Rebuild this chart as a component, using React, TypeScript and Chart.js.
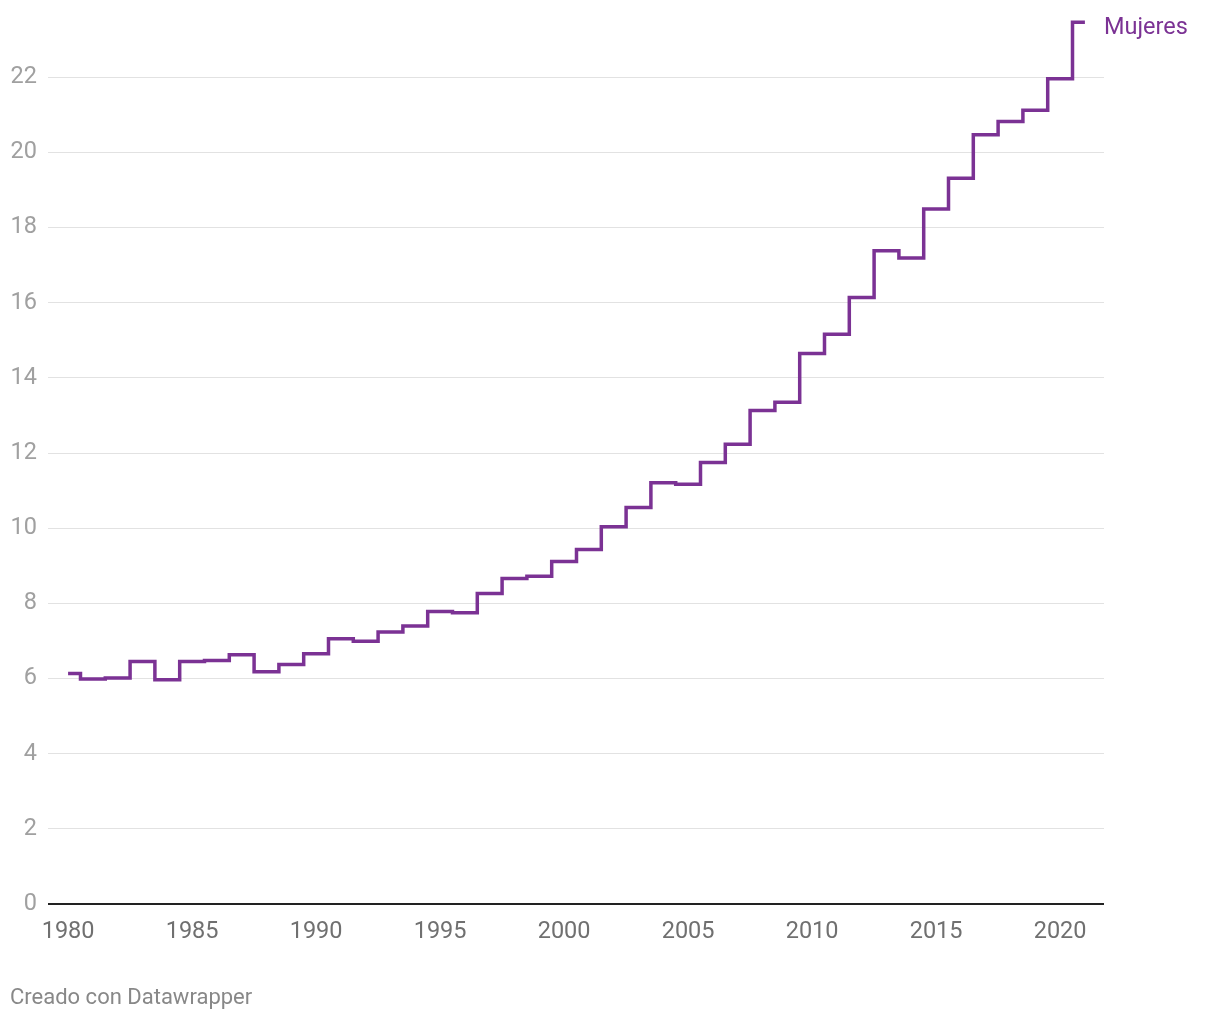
import React, { useEffect, useRef } from "react";
import { Chart, registerables } from "chart.js";

Chart.register(...registerables);

const years = [
  1980, 1981, 1982, 1983, 1984, 1985, 1986, 1987, 1988, 1989,
  1990, 1991, 1992, 1993, 1994, 1995, 1996, 1997, 1998, 1999,
  2000, 2001, 2002, 2003, 2004, 2005, 2006, 2007, 2008, 2009,
  2010, 2011, 2012, 2013, 2014, 2015, 2016, 2017, 2018, 2019,
  2020, 2021,
];
const mujeres = [
  6.13, 5.99, 6.01, 6.45, 5.97, 6.45, 6.48, 6.63, 6.18, 6.37,
  6.66, 7.06, 6.99, 7.24, 7.40, 7.78, 7.75, 8.26, 8.66, 8.72,
  9.11, 9.43, 10.04, 10.55, 11.21, 11.17, 11.75, 12.23, 13.13, 13.35,
  14.65, 15.16, 16.14, 17.38, 17.19, 18.49, 19.31, 20.47, 20.82, 21.12,
  21.96, 23.46,
];
const xTicks = [1980, 1985, 1990, 1995, 2000, 2005, 2010, 2015, 2020];
const yTicks = [0, 2, 4, 6, 8, 10, 12, 14, 16, 18, 20, 22];
const seriesLabel = "Mujeres";
const footer = "Creado con Datawrapper";

const PURPLE = "#7b3294";
const FONT = "Roboto, 'DejaVu Sans', sans-serif";

export default function App() {
  const ref = useRef<HTMLCanvasElement | null>(null);

  useEffect(() => {
    document.body.style.margin = "0";
    const canvas = ref.current;
    if (!canvas) return;

    const labelsPlugin = {
      id: "extraText",
      afterDraw(chart: any) {
        const { ctx, scales } = chart;
        const xs = scales.x;
        const ys = scales.y;
        ctx.save();
        const lastX = xs.getPixelForValue(years[years.length - 1]);
        const lastY = ys.getPixelForValue(mujeres[mujeres.length - 1]);
        ctx.font = `23.5px ${FONT}`;
        ctx.fillStyle = PURPLE;
        ctx.textAlign = "left";
        ctx.textBaseline = "middle";
        ctx.fillText(seriesLabel, lastX + 19, lastY + 6);
        ctx.font = `22px ${FONT}`;
        ctx.fillStyle = "#888888";
        ctx.textBaseline = "alphabetic";
        ctx.fillText(footer, 10, 1004);
        ctx.restore();
      },
    };

    const chart = new Chart(canvas, {
      type: "line",
      data: {
        datasets: [
          {
            label: seriesLabel,
            data: years.map((y, i) => ({ x: y, y: mujeres[i] })),
            borderColor: PURPLE,
            borderWidth: 3.5,
            stepped: "middle",
            pointRadius: 0,
            fill: false,
          },
        ],
      },
      options: {
        animation: false,
        responsive: false,
        devicePixelRatio: 1,
        layout: { padding: { left: 0, right: 116, top: 2, bottom: 0 } },
        plugins: {
          legend: { display: false },
          tooltip: { enabled: false },
        },
        scales: {
          x: {
            type: "linear",
            min: 1979.19,
            max: 2021.77,
            afterBuildTicks(scale: any) {
              scale.ticks = xTicks.map((v) => ({ value: v }));
            },
            afterFit(scale: any) {
              scale.height = 116;
              scale.paddingLeft = 0;
              scale.paddingRight = 0;
            },
            grid: { display: false, drawTicks: false },
            border: { display: false },
            ticks: {
              color: "#707070",
              font: { family: FONT, size: 23.5 },
              padding: 14,
              maxRotation: 0,
              autoSkip: false,
              callback: (v: any) => String(v),
            },
          },
          y: {
            type: "linear",
            min: 0,
            max: 24,
            afterBuildTicks(scale: any) {
              scale.ticks = yTicks.map((v) => ({ value: v }));
            },
            afterFit(scale: any) {
              scale.width = 48;
              scale.paddingTop = 0;
              scale.paddingBottom = 0;
            },
            grid: {
              drawTicks: false,
              color: (c: any) => (c.tick && c.tick.value === 0 ? "#222222" : "#e2e2e2"),
              lineWidth: (c: any) => (c.tick && c.tick.value === 0 ? 2 : 1),
            },
            border: { display: false },
            ticks: {
              color: "#a0a0a0",
              font: { family: FONT, size: 23.5 },
              padding: 11,
              callback: (v: any) => String(v),
            },
          },
        },
      },
      plugins: [labelsPlugin],
    });

    return () => chart.destroy();
  }, []);

  return (
    <div style={{ position: "absolute", left: 0, top: 0, width: 1220, height: 1020 }}>
      <canvas ref={ref} width={1220} height={1020} style={{ width: 1220, height: 1020 }} />
    </div>
  );
}
